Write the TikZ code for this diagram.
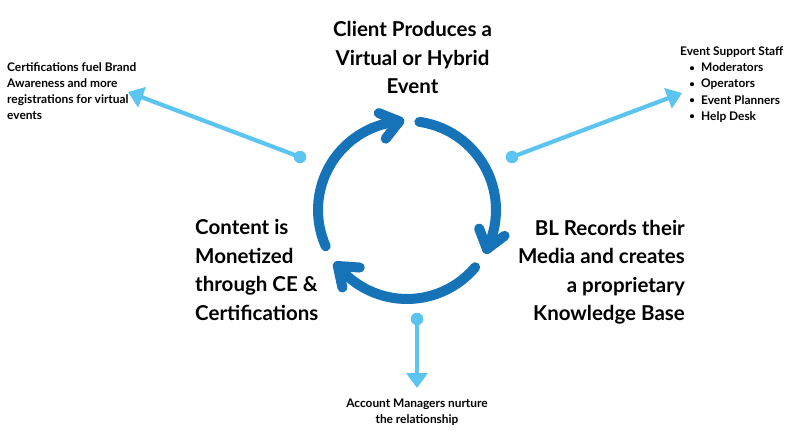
\documentclass[tikz,border=0pt]{standalone}
\usepackage{fontspec}
\setmainfont{Lato}
\usetikzlibrary{arrows.meta,calc}
\definecolor{cycblue}{HTML}{1673B7}
\definecolor{skyblue}{HTML}{5BC4F1}
\begin{document}
\begin{tikzpicture}[x=1pt,y=-1pt,
  bigtxt/.style={font=\fontsize{20.5}{28.5}\selectfont\bfseries, inner sep=0pt},
  smalltxt/.style={font=\fontsize{11.9}{16}\selectfont\bfseries, inner sep=0pt},
  bullettxt/.style={font=\fontsize{9.5}{12}\selectfont\bfseries, inner sep=0pt},
  cyc/.style={draw=cycblue, line width=10pt, line cap=round, line join=round},
  conn/.style={draw=skyblue, line width=4.2pt, -{Triangle[length=15pt,width=21pt]}},
  dot/.style={circle, fill=skyblue, minimum size=12.5pt, inner sep=0pt}]
\useasboundingbox (0,0) rectangle (790,444);
\coordinate (c) at (407,210);
% cycle arcs
\foreach \s/\e in {-82/26, 40/141, 156/265}{
  \draw[cyc] (c) ++(\s:89) arc[start angle=\s, end angle=\e, radius=89];
  \coordinate (t) at ($(c)+(\e:89)$);
  \pgfmathsetmacro{\wa}{\e-63}
  \pgfmathsetmacro{\wb}{\e-137}
  \draw[cyc] ($(t)+(\wa:22)$) -- (t) -- ($(t)+(\wb:22)$);
}
% texts
\node[bigtxt, align=center] (client) at (412.5,57.5) {Client Produces a\\Virtual or Hybrid\\Event};
\node[bigtxt, align=left, anchor=west] (content) at (195,270) {Content is\\Monetized\\through CE \&\\Certifications};
\node[bigtxt, align=right, anchor=east] (records) at (685,272) {BL Records their\\Media and creates\\a proprietary\\Knowledge Base};
\node[smalltxt, align=left, anchor=west] (cert) at (7,91.5) {Certifications fuel Brand\\Awareness and more\\registrations for virtual\\events};
\node[smalltxt, anchor=base west] (staff) at (680,56) {Event Support Staff};
\foreach \n/\t/\y in {m1/Moderators/72, m2/Operators/88, m3/Event Planners/104, m4/Help Desk/120}{
  \node[bullettxt, anchor=base] (b\n) at (692,\y-0.8) {•};
  \node[smalltxt, anchor=base west] (\n) at (701,\y) {\t};
}
\node[smalltxt, align=center] (account) at (417,412) {Account Managers nurture\\the relationship};
% connectors
\node[dot] (dL) at (300,157) {};
\node[dot] (dR) at (512,157) {};
\node[dot] (dB) at (417,319) {};
\coordinate (tL) at (128,92);
\coordinate (tR) at (682,93);
\coordinate (tB) at (417,388);
\draw[conn] (dL.center) -- (tL);
\draw[conn] (dR.center) -- (tR);
\draw[conn] (dB.center) -- (tB);
\end{tikzpicture}
\end{document}
